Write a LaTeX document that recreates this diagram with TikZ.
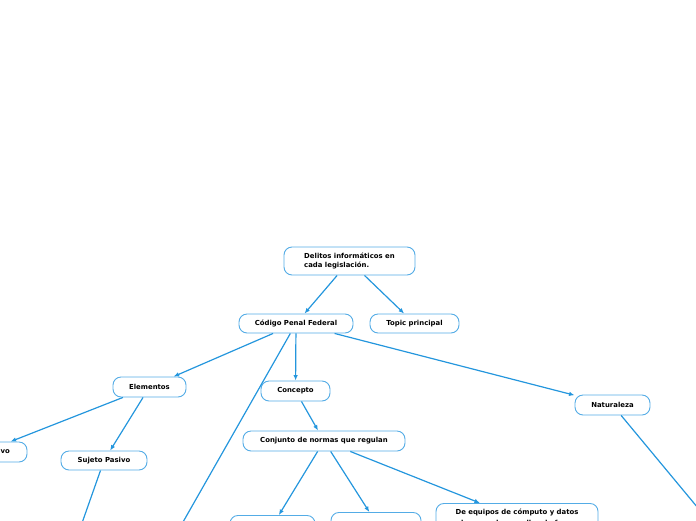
\documentclass[tikz,border=0pt]{standalone}
\usepackage{fontspec}
\setmainfont{DejaVu Sans}
\usetikzlibrary{arrows.meta}
\definecolor{mmline}{RGB}{36,150,221}
\definecolor{mmbox}{RGB}{84,172,230}
\begin{document}
\begin{tikzpicture}[x=1pt,y=-1pt,
    every node/.style={font=\fontsize{6.9}{8.6}\selectfont\bfseries},
    topic/.style={draw=mmbox, line width=0.9pt, rounded corners=8pt, fill=white,
      minimum height=20pt, inner sep=2pt},
    link/.style={draw=mmline, line width=1.2pt, -{Latex[length=5.5pt,width=4.5pt]}}]
    \useasboundingbox (0,0) rectangle (696,520);

    % main topic and first level
    \node[topic, minimum width=131pt, minimum height=28pt, align=left] (root) at (349.5,261)
      {Delitos informáticos en\\cada legislación.};
    \node[topic, minimum width=114pt, minimum height=19pt] (codigo) at (296,323.5) {Código Penal Federal};
    \node[topic, minimum width=89pt, minimum height=19pt] (principal) at (414.5,323.5) {Topic principal};

    % children of the code
    \node[topic, minimum width=73pt] (elementos) at (149.5,387) {Elementos};
    \node[topic, minimum width=69pt] (concepto) at (295.5,391) {Concepto};
    \node[topic, minimum width=75pt] (naturaleza) at (612.5,405) {Naturaleza};
    \coordinate (hidden1) at (150,580);

    \node[topic, minimum width=86pt] (activo) at (-16,452) {Sujeto Activo};
    \node[topic, minimum width=86pt, minimum height=19pt] (pasivo) at (104,460.5) {Sujeto Pasivo};
    \coordinate (hidden2) at (69,560);
    \coordinate (hidden3) at (737,555);

    \node[topic, minimum width=162pt] (conjunto) at (324,441) {Conjunto de normas que regulan};
    \node[topic, minimum width=85pt, anchor=north] (uso) at (272.5,515) {};
    \node[topic, minimum width=90pt, anchor=north] (acceso) at (376,512) {};
    \node[topic, minimum width=162pt, anchor=north, inner ysep=6pt, align=center,
      font=\fontsize{6.9}{11}\selectfont\bfseries] (equipos) at (517,503)
      {De equipos de cómputo y datos\\almacenados en ellos de forma};

    \draw[link] (root) -- (codigo);
    \draw[link] (root) -- (principal);
    \draw[link] (codigo) -- (elementos);
    \draw[link] (codigo) -- (concepto);
    \draw[link] (codigo) -- (naturaleza);
    \draw[link] (codigo) -- (hidden1);
    \draw[link] (elementos) -- (activo);
    \draw[link] (elementos) -- (pasivo);
    \draw[link] (pasivo) -- (hidden2);
    \draw[link] (naturaleza) -- (hidden3);
    \draw[link] (concepto) -- (conjunto);
    \draw[link] (conjunto) -- (uso);
    \draw[link] (conjunto) -- (acceso);
    \draw[link] (conjunto) -- (equipos);
  \end{tikzpicture}
\end{document}
